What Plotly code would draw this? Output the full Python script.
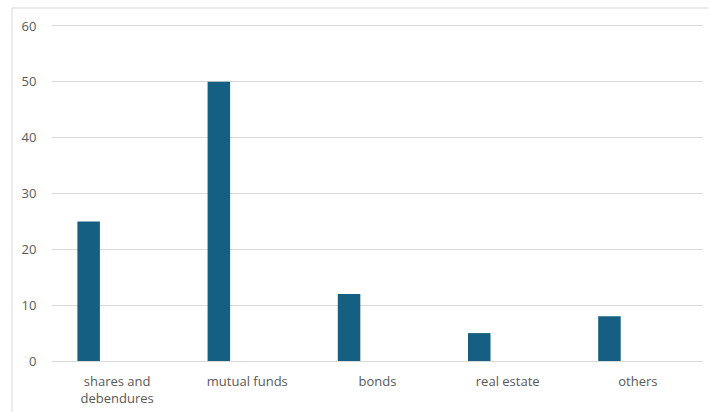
import plotly.graph_objects as go

categories = ["shares and<br>debendures", "mutual funds", "bonds", "real estate", "others"]
values = [25, 50, 12, 5, 8]
y_ticks = [0, 10, 20, 30, 40, 50, 60]

W, H = 709, 412
ml, mr, mt, mb = 52, 6, 26, 51
pw = W - ml - mr
ph = H - mt - mb

fig = go.Figure()
fig.add_trace(go.Bar(
    x=categories, y=values,
    marker=dict(color="#156082", line=dict(width=0)),
    width=0.173, offset=-0.305,
    hoverinfo="x+y",
))

font = dict(family="'Open Sans', sans-serif", size=13, color="#595959")

fig.update_layout(
    width=W, height=H,
    margin=dict(l=ml, r=mr, t=mt, b=mb, autoexpand=False),
    plot_bgcolor="white", paper_bgcolor="white",
    showlegend=False,
    font=font,
    xaxis=dict(
        showgrid=False, zeroline=False, automargin=False,
        showline=True, linecolor="#d9d9d9", linewidth=1, mirror=True,
        ticks="outside", ticklen=8, tickcolor="rgba(0,0,0,0)",
        tickfont=font,
    ),
    yaxis=dict(
        range=[0, 60], tickvals=y_ticks, automargin=False,
        showgrid=True, gridcolor="#d9d9d9", gridwidth=1,
        zeroline=False,
        showline=False,
        ticks="outside", ticklen=12, tickcolor="rgba(0,0,0,0)",
        tickfont=font,
    ),
    shapes=[dict(
        type="rect", xref="paper", yref="paper",
        x0=(12 - ml) / pw, x1=1 + 20 / pw,
        y0=-(H - (mt + ph) + 10) / ph, y1=1 + (mt - 8) / ph,
        line=dict(color="#d9d9d9", width=1), fillcolor="rgba(0,0,0,0)",
        layer="below",
    )],
)

fig.write_html("out.html", post_script="document.body.style.margin='0';",
               config={"displayModeBar": False})
